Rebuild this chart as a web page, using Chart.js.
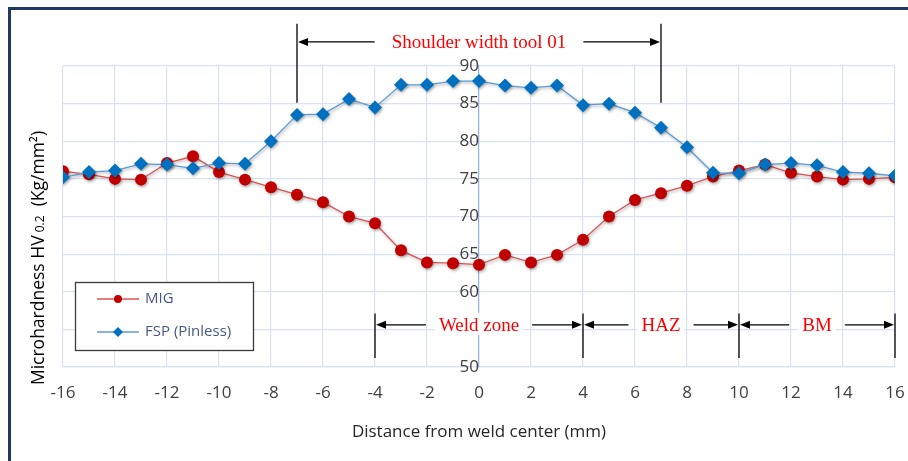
<!DOCTYPE html>
<html><head><meta charset="utf-8">
<script src="https://cdn.jsdelivr.net/npm/chart.js@4/dist/chart.umd.min.js"></script>
<style>html,body{margin:0;padding:0;background:#fff;}canvas{display:block}</style>
</head><body>
<canvas id="c" width="908" height="461"></canvas>
<script>
// ---- data ----
const distances = [-16,-15,-14,-13,-12,-11,-10,-9,-8,-7,-6,-5,-4,-3,-2,-1,0,1,2,3,4,5,6,7,8,9,10,11,12,13,14,15,16];
const migValues = [76.0,75.6,75.0,74.9,77.1,78.0,75.9,74.9,73.9,72.9,71.9,70.0,69.1,65.5,63.9,63.8,63.6,64.9,63.9,64.9,66.9,70.0,72.2,73.1,74.1,75.3,76.1,76.9,75.8,75.3,74.9,75.0,75.2];
const fspValues = [75.2,75.9,76.1,77.0,76.9,76.4,77.1,77.0,80.0,83.5,83.6,85.6,84.5,87.5,87.5,88.0,88.0,87.4,87.1,87.4,84.8,85.0,83.8,81.8,79.2,75.8,75.75,76.9,77.1,76.8,75.9,75.75,75.4];
const seriesNames = ['MIG', 'FSP (Pinless)'];
const xTitle = 'Distance from weld center (mm)';
const yTitleParts = ['Microhardness HV', ' 0.2', '  (Kg/mm\u00B2)'];
const zoneBounds = [-4, 4, 10, 16];
const zoneLabels = ['Weld zone', 'HAZ', 'BM'];
const zoneArrowLevel = 55.6;
const zoneLineRange = [57.1, 51.2];
const shoulderBounds = [-7, 7];
const shoulderLabel = 'Shoulder width tool 01';
const shoulderArrowLevel = 93.2;
const shoulderLineRange = [95.6, 85.1];

const RED = '#C00000', RED_LINE = '#DB5454', BLUE = '#0070C0', BLUE_LINE = '#5B9BD5';
const GRID = '#D9E2F2';
const TICK_COLOR = '#404040';

function arrowHead(ctx, x, y, dir) {
  ctx.beginPath();
  ctx.moveTo(x, y);
  ctx.lineTo(x - dir * 10, y - 4);
  ctx.lineTo(x - dir * 10, y + 4);
  ctx.closePath();
  ctx.fill();
}
function arrow(ctx, xTail, xHead, y) {
  const dir = xHead > xTail ? 1 : -1;
  ctx.beginPath();
  ctx.moveTo(xTail, y);
  ctx.lineTo(xHead - dir * 8, y);
  ctx.stroke();
  arrowHead(ctx, xHead, y, dir);
}
function spanLabel(ctx, x1, x2, y, text, gap) {
  ctx.font = '19px "Liberation Serif", "Times New Roman", serif';
  const w = ctx.measureText(text).width;
  const cx = (x1 + x2) / 2;
  ctx.fillStyle = '#fff';
  ctx.fillRect(cx - w / 2 - 4, y - 12, w + 8, 22);
  ctx.fillStyle = '#FF0000';
  ctx.textAlign = 'center';
  ctx.textBaseline = 'middle';
  ctx.fillText(text, cx, y + 1);
  ctx.fillStyle = '#000';
  ctx.strokeStyle = '#000';
  ctx.lineWidth = 1.2;
  arrow(ctx, cx - w / 2 - gap, x1 + 1, y);
  arrow(ctx, cx + w / 2 + gap, x2 - 1, y);
}
function vLine(ctx, x, y1, y2) {
  ctx.strokeStyle = '#000';
  ctx.lineWidth = 1.3;
  ctx.beginPath();
  ctx.moveTo(x, y1);
  ctx.lineTo(x, y2);
  ctx.stroke();
}

const shadowPlugin = {
  id: 'shadow',
  beforeDatasetDraw(chart) {
    const ctx = chart.ctx;
    ctx.save();
    ctx.shadowColor = 'rgba(0,0,0,0.35)';
    ctx.shadowBlur = 3;
    ctx.shadowOffsetX = 1;
    ctx.shadowOffsetY = 1.5;
  },
  afterDatasetDraw(chart) { chart.ctx.restore(); }
};

const decorPlugin = {
  id: 'decor',
  afterDraw(chart) {
    const ctx = chart.ctx;
    const xs = chart.scales.x, ys = chart.scales.y;
    ctx.save();
    // outer frame
    ctx.strokeStyle = '#1F3864';
    ctx.lineWidth = 3;
    ctx.beginPath();
    ctx.moveTo(9.5, 470);
    ctx.lineTo(9.5, 8.5);
    ctx.lineTo(920, 8.5);
    ctx.stroke();

    // shoulder annotation
    const sx1 = xs.getPixelForValue(shoulderBounds[0]);
    const sx2 = xs.getPixelForValue(shoulderBounds[1]);
    vLine(ctx, sx1, ys.getPixelForValue(shoulderLineRange[0]), ys.getPixelForValue(shoulderLineRange[1]));
    vLine(ctx, sx2, ys.getPixelForValue(shoulderLineRange[0]), ys.getPixelForValue(shoulderLineRange[1]));
    spanLabel(ctx, sx1, sx2, ys.getPixelForValue(shoulderArrowLevel), shoulderLabel, 17);

    // zones
    const zy = ys.getPixelForValue(zoneArrowLevel);
    zoneBounds.forEach(b => {
      const px = xs.getPixelForValue(b);
      vLine(ctx, px, ys.getPixelForValue(zoneLineRange[0]), ys.getPixelForValue(zoneLineRange[1]));
    });
    for (let i = 0; i < zoneLabels.length; i++) {
      spanLabel(ctx, xs.getPixelForValue(zoneBounds[i]), xs.getPixelForValue(zoneBounds[i + 1]), zy, zoneLabels[i], 13);
    }

    // x title
    ctx.fillStyle = '#262626';
    ctx.font = '17px "Open Sans", sans-serif';
    ctx.textAlign = 'center';
    ctx.textBaseline = 'middle';
    ctx.fillText(xTitle, (xs.left + xs.right) / 2, 432);

    // y title (rotated, with subscript)
    ctx.save();
    ctx.translate(38, 258);
    ctx.rotate(-Math.PI / 2);
    const fMain = '17.5px "Open Sans", sans-serif', fSub = '12px "Open Sans", sans-serif';
    ctx.font = fMain; const w1 = ctx.measureText(yTitleParts[0]).width;
    ctx.font = fSub; const w2 = ctx.measureText(yTitleParts[1]).width;
    ctx.font = fMain; const w3 = ctx.measureText(yTitleParts[2]).width;
    let tx = -(w1 + w2 + w3) / 2;
    ctx.textAlign = 'left';
    ctx.textBaseline = 'alphabetic';
    ctx.fillStyle = '#000';
    ctx.font = fMain; ctx.fillText(yTitleParts[0], tx, 6); tx += w1;
    ctx.font = fSub; ctx.fillText(yTitleParts[1], tx, 6); tx += w2;
    ctx.font = fMain; ctx.fillText(yTitleParts[2], tx, 6);
    ctx.restore();

    // legend
    ctx.fillStyle = '#fff';
    ctx.fillRect(75, 282, 178, 68);
    ctx.strokeStyle = '#3A3A3A';
    ctx.lineWidth = 1.3;
    ctx.strokeRect(75.5, 282.5, 178, 68);
    const items = [
      {name: seriesNames[0], y: 299, line: RED_LINE, fill: RED, style: 'circle'},
      {name: seriesNames[1], y: 332, line: BLUE_LINE, fill: BLUE, style: 'diamond'}
    ];
    items.forEach(it => {
      ctx.strokeStyle = it.line;
      ctx.lineWidth = 1.5;
      ctx.beginPath(); ctx.moveTo(97, it.y); ctx.lineTo(139, it.y); ctx.stroke();
      ctx.fillStyle = it.fill;
      ctx.beginPath();
      if (it.style === 'circle') ctx.arc(118, it.y, 4, 0, Math.PI * 2);
      else { ctx.moveTo(118, it.y - 5); ctx.lineTo(123, it.y); ctx.lineTo(118, it.y + 5); ctx.lineTo(113, it.y); ctx.closePath(); }
      ctx.fill();
      ctx.fillStyle = '#44598A';
      ctx.font = '15px "Open Sans", sans-serif';
      ctx.textAlign = 'left';
      ctx.textBaseline = 'middle';
      ctx.fillText(it.name, 145, it.y);
    });
    ctx.restore();
  }
};

new Chart(document.getElementById('c'), {
  type: 'line',
  data: {
    datasets: [
      {
        label: seriesNames[1],
        data: distances.map((d, i) => ({x: d, y: fspValues[i]})),
        borderColor: BLUE_LINE, borderWidth: 1.3,
        pointStyle: 'rectRot', pointRadius: 7,
        pointBackgroundColor: BLUE, pointBorderColor: BLUE, pointBorderWidth: 0,
        tension: 0, order: 0
      },
      {
        label: seriesNames[0],
        data: distances.map((d, i) => ({x: d, y: migValues[i]})),
        borderColor: RED_LINE, borderWidth: 1.3,
        pointStyle: 'circle', pointRadius: 6,
        pointBackgroundColor: RED, pointBorderColor: RED, pointBorderWidth: 0,
        tension: 0, order: 1
      }
    ]
  },
  options: {
    responsive: false,
    animation: false,
    layout: {padding: {left: 63, right: 13, top: 66, bottom: 0}},
    plugins: {legend: {display: false}, tooltip: {enabled: false}},
    scales: {
      x: {
        type: 'linear', min: -16, max: 16,
        ticks: {stepSize: 2, padding: 0, color: TICK_COLOR, font: {family: '"Open Sans", sans-serif', size: 17}},
        grid: {color: GRID, drawTicks: true, tickLength: 16, tickColor: 'rgba(0,0,0,0)', lineWidth: 1.2},
        border: {color: GRID, width: 1.2},
        afterFit(s) { s.height = 94; }
      },
      y: {
        type: 'linear', min: 50, max: 90,
        position: {x: 0},
        ticks: {stepSize: 5, padding: 3, color: TICK_COLOR, font: {family: '"Open Sans", sans-serif', size: 17}},
        grid: {color: GRID, drawTicks: false, lineWidth: 1.2},
        border: {color: '#8DB4E2', width: 1.2}
      }
    }
  },
  plugins: [shadowPlugin, decorPlugin]
});
</script>
</body></html>
